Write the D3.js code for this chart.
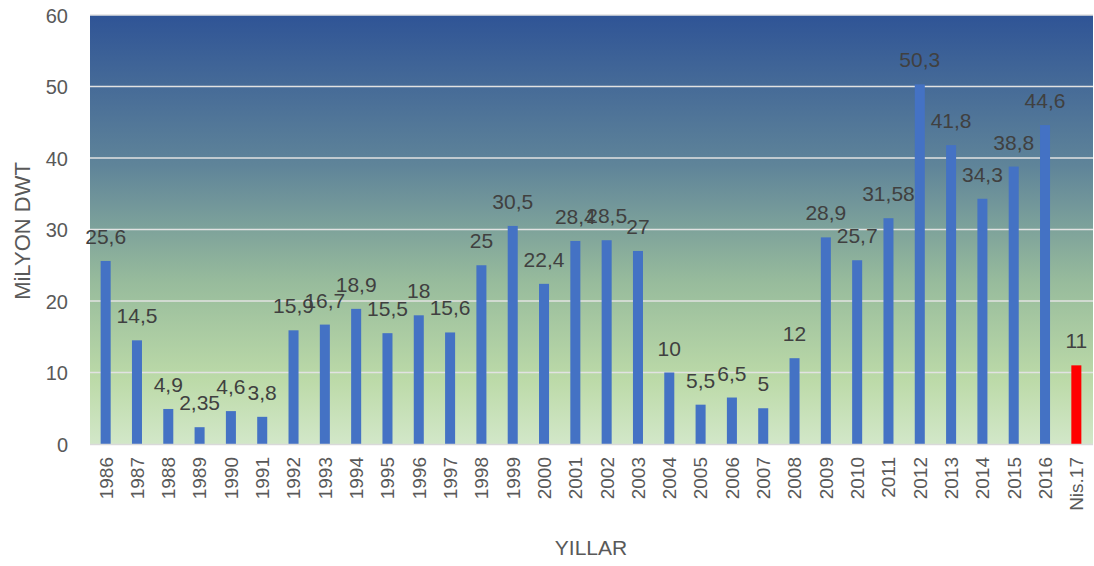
<!DOCTYPE html>
<html>
<head>
<meta charset="utf-8">
<script src="https://cdn.jsdelivr.net/npm/d3@7"></script>
<style>
  body { margin: 0; background: #fff; }
  svg { display: block; font-family: "Liberation Sans", Arial, sans-serif; }
</style>
</head>
<body>
<figure id="chart" style="margin:0"></figure>
<script>
// data
const years = ["1986","1987","1988","1989","1990","1991","1992","1993","1994","1995",
  "1996","1997","1998","1999","2000","2001","2002","2003","2004","2005","2006","2007",
  "2008","2009","2010","2011","2012","2013","2014","2015","2016","Nis.17"];
const values = [25.6, 14.5, 4.9, 2.35, 4.6, 3.8, 15.9, 16.7, 18.9, 15.5,
  18, 15.6, 25, 30.5, 22.4, 28.4, 28.5, 27, 10, 5.5, 6.5, 5,
  12, 28.9, 25.7, 31.58, 50.3, 41.8, 34.3, 38.8, 44.6, 11];
const yTicks = [0, 10, 20, 30, 40, 50, 60];

const width = 1094, height = 566;
const plotLeft = 90, plotRight = 1093, plotTop = 15, plotBottom = 444;

const svg = d3.select("#chart").append("svg")
  .attr("width", width).attr("height", height);

// background gradient of the plot area
const grad = svg.append("defs").append("linearGradient")
  .attr("id", "bg").attr("x1", 0).attr("y1", 0).attr("x2", 0).attr("y2", 1);
grad.append("stop").attr("offset", "0%").attr("stop-color", "#2f5496");
grad.append("stop").attr("offset", "35%").attr("stop-color", "#5f8499");
grad.append("stop").attr("offset", "62%").attr("stop-color", "#97bb9c");
grad.append("stop").attr("offset", "85%").attr("stop-color", "#bcdaa8");
grad.append("stop").attr("offset", "100%").attr("stop-color", "#d2e7c8");

svg.append("rect")
  .attr("x", plotLeft).attr("y", plotTop)
  .attr("width", plotRight - plotLeft).attr("height", plotBottom - plotTop)
  .attr("fill", "url(#bg)");

const x = d3.scaleBand().domain(years).range([plotLeft, 1092]).paddingInner(0.68).paddingOuter(0.34);
const y = d3.scaleLinear().domain([0, 60]).range([plotBottom, plotTop]);

// gridlines
svg.append("g")
  .selectAll("line")
  .data(yTicks.filter(d => d > 0))
  .join("line")
  .attr("x1", plotLeft).attr("x2", plotRight)
  .attr("y1", d => y(d)).attr("y2", d => y(d))
  .attr("stroke", "#e2e2e2")
  .attr("stroke-width", 1.5);

// bars
svg.append("g")
  .selectAll("rect")
  .data(values)
  .join("rect")
  .attr("x", (d, i) => x(years[i]))
  .attr("width", x.bandwidth())
  .attr("y", d => y(d))
  .attr("height", d => y(0) - y(d))
  .attr("fill", (d, i) => years[i] === "Nis.17" ? "#ff0000" : "#4472c4");

// baseline
svg.append("line")
  .attr("x1", plotLeft).attr("x2", plotRight)
  .attr("y1", plotBottom + 0.5).attr("y2", plotBottom + 0.5)
  .attr("stroke", "#d9d9d9").attr("stroke-width", 1.5);

// value labels (some overlap, as in the original)
svg.append("g")
  .selectAll("text")
  .data(values)
  .join("text")
  .attr("x", (d, i) => x(years[i]) + x.bandwidth() / 2)
  .attr("y", d => y(d) - 17)
  .attr("text-anchor", "middle")
  .attr("fill", "#404040")
  .style("font-size", "21px")
  .text(d => String(d).replace(".", ","));

// y axis
const yAxis = svg.append("g")
  .attr("transform", "translate(" + (plotLeft - 22) + ",0)")
  .call(d3.axisLeft(y).tickValues(yTicks).tickSize(0).tickPadding(0));
yAxis.select(".domain").remove();
yAxis.selectAll("text")
  .attr("fill", "#595959")
  .attr("dy", "0.36em")
  .style("font-size", "20px")
  .style("font-family", "Liberation Sans, Arial, sans-serif");

// x axis labels, rotated
const xAxis = svg.append("g")
  .attr("transform", "translate(0," + plotBottom + ")")
  .call(d3.axisBottom(x).tickSize(0));
xAxis.select(".domain").remove();
xAxis.selectAll("text")
  .attr("fill", "#595959")
  .attr("transform", "rotate(-90)")
  .attr("text-anchor", "end")
  .attr("x", -13)
  .attr("y", 0)
  .attr("dy", "0.36em")
  .style("font-size", "19px")
  .style("font-family", "Liberation Sans, Arial, sans-serif");

// axis titles
svg.append("text")
  .attr("x", 591).attr("y", 555)
  .attr("text-anchor", "middle")
  .attr("fill", "#595959")
  .style("font-size", "21px")
  .text("YILLAR");

svg.append("text")
  .attr("transform", "translate(30,231) rotate(-90)")
  .attr("text-anchor", "middle")
  .attr("fill", "#595959")
  .style("font-size", "22px")
  .text("MiLYON DWT");
</script>
</body>
</html>
